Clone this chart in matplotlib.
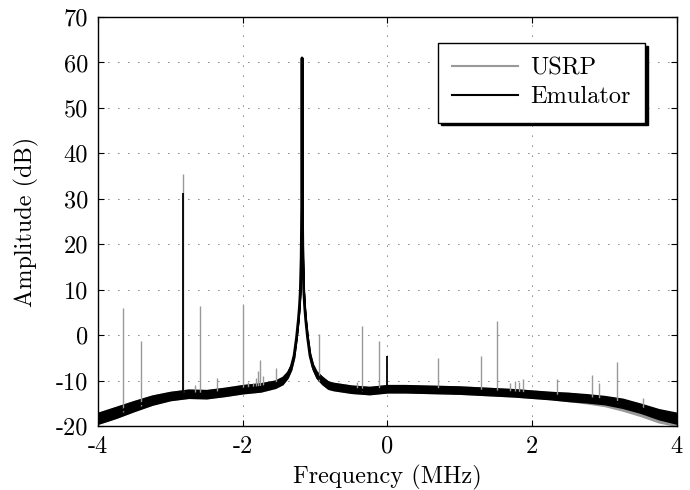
import matplotlib
matplotlib.use("Agg")
import matplotlib.pyplot as plt

plt.rcParams['font.family'] = 'serif'
plt.rcParams['font.serif'] = ['cmr10', 'DejaVu Serif']
plt.rcParams['mathtext.fontset'] = 'cm'
plt.rcParams['axes.unicode_minus'] = False
plt.rcParams['axes.formatter.use_mathtext'] = True

# Emulator trace: noise floor (centre of the noisy band) plus the carrier at -1.18 MHz
emu_f = [-4.0, -3.75, -3.5, -3.25, -3.0, -2.75, -2.5, -2.25, -2.0, -1.75,
         -1.55, -1.45, -1.38, -1.33, -1.29, -1.256, -1.23, -1.215, -1.203, -1.192, -1.185, -1.18,
         -1.175, -1.168, -1.157, -1.145, -1.13, -1.104, -1.07, -1.03, -0.98, -0.9,
         -0.82, -0.75, -0.5, -0.25, 0.0, 0.25, 0.5, 0.75, 1.0, 1.25, 1.5, 1.75,
         2.0, 2.25, 2.5, 2.75, 3.0, 3.25, 3.5, 3.75, 4.0]
emu_db = [-18.3, -17.0, -15.6, -14.3, -13.4, -12.9, -13.0, -12.5, -11.9, -11.5,
          -10.8, -10.0, -8.7, -7.0, -4.5, -0.5, 3.5, 6.5, 10.0, 17.0, 28.0, 61.0,
          28.0, 17.0, 10.0, 6.5, 3.5, -0.5, -4.5, -7.0, -8.7, -10.0,
          -11.0, -11.3, -11.9, -12.2, -11.8, -11.8, -11.9, -12.0, -12.1, -12.3, -12.5, -12.7,
          -13.0, -13.3, -13.6, -13.9, -14.3, -15.0, -16.1, -17.4, -18.3]
# half thickness of the noisy band at each point (dB)
emu_spread = [1.2, 1.2, 1.1, 1.0, 0.9, 0.9, 0.9, 0.9, 0.9, 0.9,
              0.8, 0.8, 0.7, 0.6, 0.5, 0.3, 0.2, 0.1, 0.0, 0.0, 0.0, 0.0,
              0.0, 0.0, 0.0, 0.1, 0.2, 0.3, 0.5, 0.6, 0.7, 0.8,
              0.8, 0.8, 0.8, 0.8, 0.8, 0.8, 0.8, 0.8, 0.8, 0.8, 0.8, 0.8,
              0.8, 0.8, 0.9, 0.9, 0.9, 1.0, 1.0, 1.1, 1.2]

# USRP floor: same as emulator except slightly lower near the right edge
usrp_shift = [0] * 47 + [-0.2, -0.4, -0.6, -0.7, -0.7, -0.5]

# Spurs
emu_spur_f = [-2.82, 0.0]
emu_spur_db = [31.3, -4.5]
usrp_spur_f = [-3.65, -3.41, -2.82, -2.66, -2.59, -2.36, -2.0, -1.92, -1.86, -1.82, -1.79, -1.76,
               -1.72, -1.54, -0.95, -0.42, -0.35, -0.12, 0.70, 1.29, 1.52, 1.70, 1.76, 1.82,
               1.88, 2.34, 2.82, 2.93, 3.17, 3.53]
usrp_spur_db = [6.0, -1.2, 35.4, -11.0, 6.3, -9.5, 6.8, -10.3, -10.5, -9.5, -8.0, -5.5,
                -9.0, -7.3, 0.2, -10.3, 2.0, -1.2, -5.0, -4.5, 3.1, -10.6, -10.0, -10.3,
                -9.7, -9.7, -8.8, -10.5, -5.9, -13.9]

xticks = [-4, -2, 0, 2, 4]
xtick_labels = ['-4', '-2', '0', '2', '4']
yticks = [-20, -10, 0, 10, 20, 30, 40, 50, 60, 70]
ytick_labels = ['-20', '-10', '0', '10', '20', '30', '40', '50', '60', '70']

gray = '#999999'
fs = 17.5


def floor_at(f):
    # nearest floor value, skipping the carrier itself
    cand = [i for i in range(len(emu_f)) if emu_db[i] < -9]
    best = min(cand, key=lambda i: abs(emu_f[i] - f))
    return emu_db[best]


fig = plt.figure(figsize=(6.9, 4.9), dpi=100)
ax = fig.add_axes([0.142, 0.1306, 0.839, 0.8347])

# USRP (gray) first
usrp_db = [d + s for d, s in zip(emu_db, usrp_shift)]
band = ax.fill_between(emu_f, [d - s for d, s in zip(usrp_db, emu_spread)],
                       [d + s for d, s in zip(usrp_db, emu_spread)], color=gray, lw=1.0)
band.set_sketch_params(2.5, 1.0, 4.0)  # noisy look of the band edge
ax.vlines(usrp_spur_f, [floor_at(f) for f in usrp_spur_f], usrp_spur_db, color=gray, lw=1.0)
ax.plot([], [], color=gray, lw=1.5, label='USRP')

# Emulator (black) on top
band = ax.fill_between(emu_f, [d - s for d, s in zip(emu_db, emu_spread)],
                       [d + s for d, s in zip(emu_db, emu_spread)], color='k', lw=1.0)
band.set_sketch_params(2.5, 1.0, 4.0)
ax.plot(emu_f, emu_db, color='k', lw=2.0)
ax.vlines(emu_spur_f, [floor_at(f) for f in emu_spur_f], emu_spur_db, color='k', lw=1.3)
ax.plot([], [], color='k', lw=1.5, label='Emulator')

ax.set_xlim(-4, 4)
ax.set_ylim(-20, 70)
ax.set_xticks(xticks)
ax.set_xticklabels(xtick_labels)
ax.set_yticks(yticks)
ax.set_yticklabels(ytick_labels)
ax.tick_params(direction='in', length=4, width=0.8, top=True, right=True, labelsize=fs, pad=7)
ax.grid(True, color='k', lw=0.6, linestyle=(0, (1, 11)))
for sp in ax.spines.values():
    sp.set_linewidth(1.0)

ax.set_xlabel('Frequency (MHz)', fontsize=fs, labelpad=5)
ax.set_ylabel('Amplitude (dB)', fontsize=fs, labelpad=12)

leg = ax.legend(loc='upper right', bbox_to_anchor=(0.945, 0.936), borderaxespad=0,
                fontsize=fs, handlelength=2.7, fancybox=False, framealpha=1,
                edgecolor='k', shadow={'color': 'k', 'alpha': 1}, borderpad=0.6,
                labelspacing=0.25, handletextpad=0.5)
leg.get_frame().set_linewidth(1.0)

fig.savefig('out.png', dpi=100)
